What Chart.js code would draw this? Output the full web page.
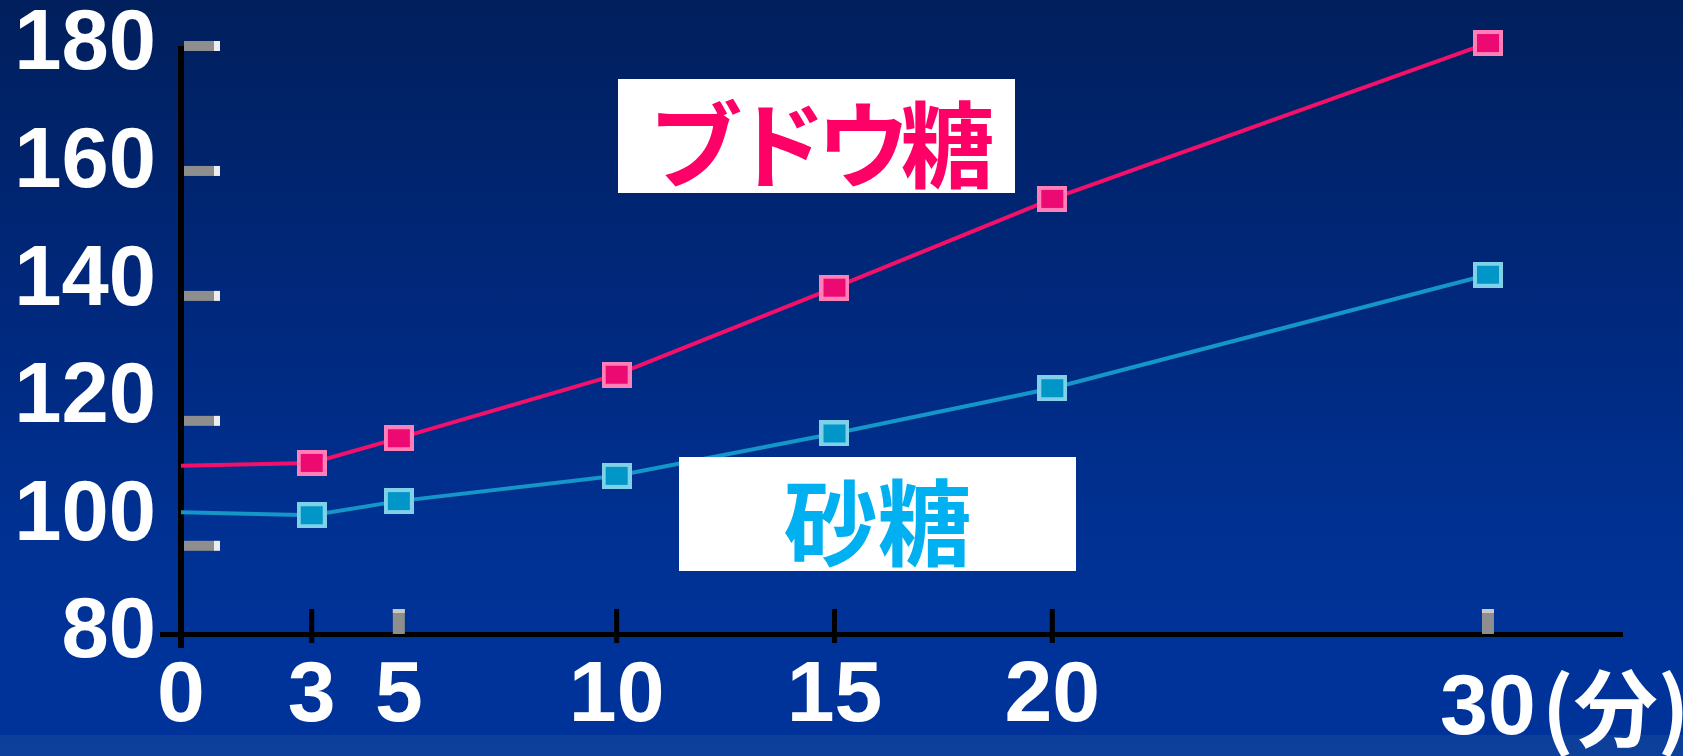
<!DOCTYPE html>
<html lang="ja">
<head>
<meta charset="utf-8">
<title>ブドウ糖と砂糖</title>
<script src="https://cdn.jsdelivr.net/npm/chart.js@4.4.1/dist/chart.umd.min.js"></script>
<style>
  html, body { margin: 0; padding: 0; }
  body {
    width: 1683px;
    height: 756px;
    overflow: hidden;
    position: relative;
    background: linear-gradient(to bottom, #001f5c 0%, #00287c 40%, #003192 70%, #003399 85%, #003399 97.2%, #0c3f99 97.2%, #0d409a 100%);
  }
  #chart { position: absolute; left: 0; top: 0; }
  .tag {
    position: absolute;
    width: 397px;
    height: 114px;
    background: #ffffff;
    overflow: hidden;
    text-align: center;
    font-family: "Noto Sans CJK JP", sans-serif;
    font-weight: 700;
    font-size: 94px;
    line-height: 94px;
    white-space: nowrap;
  }
  .tag span { display: inline-block; padding-top: 14px; }
  #unit {
    position: absolute;
    left: 1542px;
    top: 662px;
    color: #ffffff;
    font-family: "Noto Sans CJK JP", sans-serif;
    font-weight: 700;
    font-size: 84px;
    line-height: 84px;
    white-space: nowrap;
  }
</style>
</head>
<body>
<canvas id="chart" width="1683" height="756"></canvas>
<div class="tag" style="left: 618px; top: 79px;"><span style="color: #ff0066; letter-spacing: -10px;">ブドウ糖</span></div>
<div class="tag" style="left: 679px; top: 457px;"><span style="color: #00b0f0;">砂糖</span></div>
<div id="unit">(分)</div>
<script>
const minutes = [0, 3, 5, 10, 15, 20, 30];
const glucoseValues = [108.6, 109.1, 113.3, 124.1, 138.9, 154.0, 180.5];
const sucroseValues = [100.7, 100.2, 102.6, 106.9, 114.1, 121.8, 141.1];

const timeTicks = [0, 3, 5, 10, 15, 20, 30];
const blackTickMinutes = [3, 10, 15, 20];
const greyTickMinutes = [5, 30];
// the grey stubs on the y axis do not sit on the labels
const yStubValues = [180, 158.75, 137.5, 116.25, 95];

const labelFont = "'Liberation Sans', Arial, sans-serif";

function makeMarker(fill, edge) {
  const c = document.createElement("canvas");
  c.width = 30;
  c.height = 26;
  const g = c.getContext("2d");
  g.fillStyle = edge;
  g.fillRect(0, 0, 30, 26);
  g.fillStyle = fill;
  g.fillRect(4, 4, 22, 18);
  return c;
}

function toPoints(values) {
  return minutes.map((m, i) => ({ x: m, y: values[i] }));
}

const axisDecor = {
  id: "axisDecor",
  beforeDatasetsDraw(chart) {
    const { ctx, chartArea, scales } = chart;
    const { left, right, top, bottom } = chartArea;
    ctx.save();

    ctx.fillStyle = "#000000";
    ctx.fillRect(left - 3, top, 6, bottom - top + 14);
    ctx.fillRect(left - 21, bottom - 2, right - left + 21, 5);

    yStubValues.forEach((v) => {
      const py = scales.y.getPixelForValue(v);
      ctx.fillStyle = "#8e8e8e";
      ctx.fillRect(left + 3, py - 5, 30, 10);
      ctx.fillStyle = "#eeeeee";
      ctx.fillRect(left + 33, py - 5, 6, 10);
    });

    blackTickMinutes.forEach((m) => {
      const px = scales.x.getPixelForValue(m);
      ctx.fillStyle = "#000000";
      ctx.fillRect(px - 2.5, bottom - 25, 5, 34);
    });

    greyTickMinutes.forEach((m) => {
      const px = scales.x.getPixelForValue(m);
      ctx.fillStyle = "#8e8e8e";
      ctx.fillRect(px - 6, bottom - 25, 12, 25);
      ctx.fillStyle = "#c8c8c8";
      ctx.fillRect(px - 6, bottom - 25, 12, 4);
    });

    ctx.restore();
  }
};

new Chart(document.getElementById("chart"), {
  type: "line",
  data: {
    datasets: [
      {
        label: "ブドウ糖",
        data: toPoints(glucoseValues),
        borderColor: "#f4106a",
        borderWidth: 4,
        tension: 0,
        clip: false,
        pointStyle: makeMarker("#ec0a72", "#ff80b8"),
        pointRadius: (ctx) => (ctx.dataIndex === 0 ? 0 : 13)
      },
      {
        label: "砂糖",
        data: toPoints(sucroseValues),
        borderColor: "#1496c8",
        borderWidth: 4,
        tension: 0,
        clip: false,
        pointStyle: makeMarker("#0096c8", "#80d0e8"),
        pointRadius: (ctx) => (ctx.dataIndex === 0 ? 0 : 13)
      }
    ]
  },
  options: {
    responsive: false,
    animation: false,
    events: [],
    layout: {
      padding: { top: 46, right: 60, left: 0, bottom: 0 }
    },
    plugins: {
      legend: { display: false },
      tooltip: { enabled: false }
    },
    scales: {
      x: {
        type: "linear",
        min: 0,
        max: 33.1,
        grid: { display: false, drawTicks: false },
        border: { display: false },
        afterBuildTicks: (scale) => {
          scale.ticks = timeTicks.map((v) => ({ value: v }));
        },
        afterFit: (scale) => {
          scale.height = 122;
          scale.paddingLeft = 0;
          scale.paddingRight = 0;
        },
        ticks: {
          color: "#ffffff",
          padding: 12,
          autoSkip: false,
          maxRotation: 0,
          font: (ctx) => ({
            family: labelFont,
            size: 86,
            weight: "bold",
            // the 30 label sits a little lower on the slide
            lineHeight: ctx.tick && ctx.tick.value === 30 ? 1.5 : 1.2
          })
        }
      },
      y: {
        min: 80,
        max: 180,
        grid: { display: false, drawTicks: false },
        border: { display: false },
        afterFit: (scale) => {
          scale.width = 181;
          scale.paddingTop = 0;
          scale.paddingBottom = 0;
        },
        ticks: {
          stepSize: 20,
          color: "#ffffff",
          padding: 25,
          font: {
            family: labelFont,
            size: 85,
            weight: "bold",
            lineHeight: 1
          }
        }
      }
    }
  },
  plugins: [axisDecor]
});
</script>
</body>
</html>
